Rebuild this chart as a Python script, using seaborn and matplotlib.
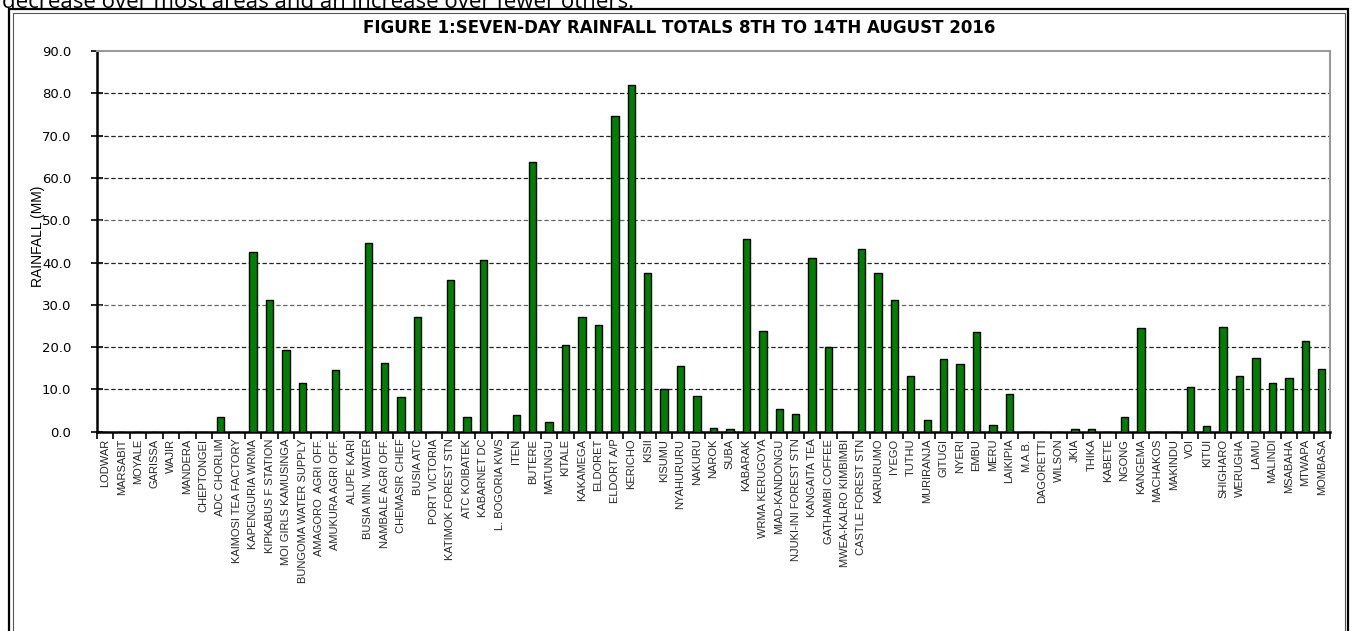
import matplotlib
matplotlib.use("Agg")
import matplotlib.pyplot as plt
import seaborn as sns
import pandas as pd
from matplotlib.patches import Rectangle
from matplotlib.ticker import FixedLocator

stations = [
    "LODWAR", "MARSABIT", "MOYALE", "GARISSA", "WAJIR", "MANDERA", "CHEPTONGEI",
    "ADC CHORLIM", "KAIMOSI TEA FACTORY", "KAPENGURIA WRMA", "KIPKABUS F STATION",
    "MOI GIRLS KAMUSINGA", "BUNGOMA WATER SUPPLY", "AMAGORO  AGRI OFF.",
    "AMUKURA AGRI OFF.", "ALUPE KARI", "BUSIA MIN. WATER", "NAMBALE AGRI OFF.",
    "CHEMASIR CHIEF", "BUSIA ATC", "PORT VICTORIA", "KATIMOK FOREST STN",
    "ATC KOIBATEK", "KABARNET DC", "L. BOGORIA KWS", "ITEN", "BUTERE", "MATUNGU",
    "KITALE", "KAKAMEGA", "ELDORET", "ELDORT A/P", "KERICHO", "KISII", "KISUMU",
    "NYAHURURU", "NAKURU", "NAROK", "SUBA", "KABARAK", "WRMA KERUGOYA",
    "MIAD-KANDONGU", "NJUKI-INI FOREST STN", "KANGAITA TEA", "GATHAMBI COFFEE",
    "MWEA-KALRO KIMBIMBI", "CASTLE FOREST STN", "KARURUMO", "IYEGO", "TUTHU",
    "MURIRANJA", "GITUGI", "NYERI", "EMBU", "MERU", "LAIKIPIA", "M.A.B.",
    "DAGORETTI", "WILSON", "JKIA", "THIKA", "KABETE", "NGONG", "KANGEMA",
    "MACHAKOS", "MAKINDU", "VOI", "KITUI", "SHIGHARO", "WERUGHA", "LAMU",
    "MALINDI", "MSABAHA", "MTWAPA", "MOMBASA",
]
rainfall = [
    0.0, 0.0, 0.0, 0.0, 0.0, 0.0, 0.0,
    3.4, 0.0, 42.5, 31.1,
    19.2, 11.6, 0.0,
    14.5, 0.0, 44.7, 16.2,
    8.1, 27.1, 0.0, 35.8,
    3.4, 40.6, 0.0, 4.0, 63.7, 2.3,
    20.5, 27.0, 25.2, 74.6, 81.9, 37.4, 10.2,
    15.6, 8.5, 0.9, 0.6, 45.5, 23.8,
    5.3, 4.2, 41.1, 20.0,
    0.0, 43.3, 37.4, 31.1, 13.1,
    2.7, 17.2, 15.9, 23.5, 1.7, 8.8, 0.0,
    0.0, 0.0, 0.7, 0.6, 0.0, 3.4, 24.6,
    0.0, 0.0, 10.6, 1.3, 24.8, 13.1, 17.5,
    11.4, 12.8, 21.5, 14.8,
]
yticks = [0, 10, 20, 30, 40, 50, 60, 70, 80, 90]

title = "FIGURE 1:SEVEN-DAY RAINFALL TOTALS 8TH TO 14TH AUGUST 2016"
ylabel = "RAINFALL (MM)"
top_text = "decrease over most areas and an increase over fewer others."

df = pd.DataFrame({"station": stations, "rain": rainfall})

sns.set_theme(style="white")
plt.rcParams["font.family"] = ["DejaVu Sans"]

W, H = 1353, 631
fig = plt.figure(figsize=(W / 100, H / 100), dpi=100)
ax = fig.add_axes([97 / W, 1 - 431.7 / H, (1330 - 97) / W, (431.7 - 51) / H])

sns.barplot(data=df, x="station", y="rain", color="#008000", saturation=1,
            edgecolor="black", linewidth=1.0, width=0.45, ax=ax, zorder=3)

ax.set_xlim(-0.5, len(stations) - 0.5)
ax.set_ylim(0, 90)
ax.set_yticks(yticks)
ax.set_yticklabels([f"{v:.1f}" for v in yticks], fontsize=9.5, color="black")
ax.set_xlabel("")
ax.set_ylabel("")

for v in yticks[1:-1]:
    c = "#666666" if v in (30, 50) else "#222222"
    ax.axhline(v, color=c, lw=0.9, ls=(0, (3.5, 2)), zorder=1)

narrow = ["Liberation Sans Narrow", "Liberation Sans", "DejaVu Sans"]
ax.set_xticks(range(len(stations)))
ax.set_xticklabels(stations, rotation=90, fontsize=8, family=narrow,
                   va="top", ha="center")
ax.tick_params(axis="x", which="major", length=0, pad=5)
ax.xaxis.set_minor_locator(FixedLocator([i - 0.5 for i in range(len(stations) + 1)]))
ax.tick_params(axis="x", which="minor", length=5, width=1.2, color="black",
               direction="out", bottom=True)
ax.tick_params(axis="y", which="major", length=9, width=1.2, color="black",
               direction="inout", left=True, pad=14)

for side in ["left", "bottom"]:
    ax.spines[side].set_color("black")
    ax.spines[side].set_linewidth(1.8)
for side in ["top", "right"]:
    ax.spines[side].set_color("#999999")
    ax.spines[side].set_linewidth(1.5)
ax.spines["top"].set_linestyle((0, (2, 1)))

fig.text(679 / W, 1 - 28 / H, title, ha="center", va="center",
         fontsize=12, fontweight="bold", color="black")
fig.text(38 / W, 1 - 236 / H, ylabel, rotation=90, ha="center", va="center",
         fontsize=10, family=narrow, color="black")
fig.text(2 / W, 1 - 8 / H, top_text, ha="left", va="baseline",
         fontsize=16, family=["Open Sans", "DejaVu Sans"], color="black")

fig.add_artist(Rectangle((9 / W, -0.05), (1348 - 9) / W, (1 - 9.5 / H) + 0.05,
                         transform=fig.transFigure, fill=False,
                         edgecolor="black", lw=1.6))
fig.add_artist(Rectangle((12.5 / W, -0.05), (1344.5 - 12.5) / W, (1 - 13 / H) + 0.05,
                         transform=fig.transFigure, fill=False,
                         edgecolor="#555555", lw=0.8))

fig.savefig("out.png", dpi=100)
